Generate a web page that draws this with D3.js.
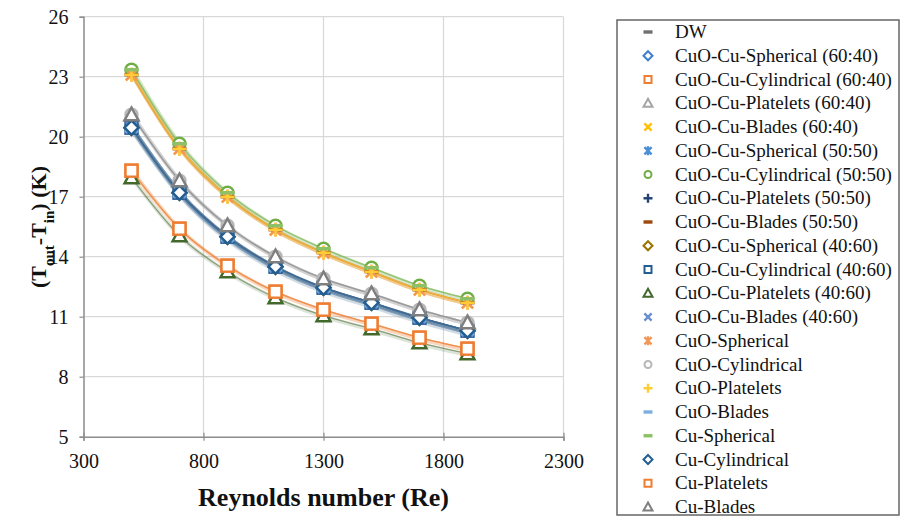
<!DOCTYPE html>
<html>
<head>
<meta charset="utf-8">
<script src="https://cdn.jsdelivr.net/npm/d3@7"></script>
<style>
  body { margin: 0; background: #fff; }
  svg text { font-family: "Liberation Serif", "Times New Roman", serif; }
</style>
</head>
<body>
<div id="chart"></div>
<script>
// Reynolds numbers on the x axis
const reynolds = [500, 700, 900, 1100, 1300, 1500, 1700, 1900];

// temperature rise (K), one array per visible band
const upperGreen  = [23.35, 19.65, 17.2, 15.55, 14.4, 13.45, 12.55, 11.9];
const upperOrange = [23.1, 19.4, 17.0, 15.35, 14.2, 13.25, 12.35, 11.7];
const plateletBand = [21.1, 17.8, 15.55, 14.0, 12.9, 12.15, 11.35, 10.7];
const diamondBand = [20.45, 17.2, 15.0, 13.5, 12.45, 11.7, 10.95, 10.3];
const diamondBandLow = [20.3, 17.05, 14.85, 13.35, 12.3, 11.55, 10.8, 10.15];
const lowerSquare = [18.3, 15.4, 13.55, 12.25, 11.35, 10.65, 9.95, 9.4];
const lowerTriangle = [17.95, 15.05, 13.25, 11.95, 11.05, 10.4, 9.7, 9.15];

const yTicks = [5, 8, 11, 14, 17, 20, 23, 26];
const xTicks = [300, 800, 1300, 1800, 2300];

const seriesNames = [
  "DW",
  "CuO-Cu-Spherical (60:40)", "CuO-Cu-Cylindrical (60:40)", "CuO-Cu-Platelets (60:40)", "CuO-Cu-Blades (60:40)",
  "CuO-Cu-Spherical (50:50)", "CuO-Cu-Cylindrical (50:50)", "CuO-Cu-Platelets (50:50)", "CuO-Cu-Blades (50:50)",
  "CuO-Cu-Spherical (40:60)", "CuO-Cu-Cylindrical (40:60)", "CuO-Cu-Platelets (40:60)", "CuO-Cu-Blades (40:60)",
  "CuO-Spherical", "CuO-Cylindrical", "CuO-Platelets", "CuO-Blades",
  "Cu-Spherical", "Cu-Cylindrical", "Cu-Platelets", "Cu-Blades"
];
const seriesValues = [
  diamondBandLow,
  diamondBand, lowerSquare, plateletBand, upperOrange,
  diamondBand, upperGreen, diamondBand, upperOrange,
  diamondBand, diamondBand, lowerTriangle, diamondBand,
  upperOrange, plateletBand, upperOrange, diamondBandLow,
  upperGreen, diamondBand, lowerSquare, plateletBand
];

// marker look per series (same order as names)
const styles = [
  { c: "#6f6f6f", s: "dash" },
  { c: "#3f7fcb", s: "diamond" }, { c: "#ed7d31", s: "square" }, { c: "#a5a5a5", s: "triangle" }, { c: "#ffc000", s: "x" },
  { c: "#4a8fd6", s: "star" }, { c: "#70ad47", s: "circle" }, { c: "#264478", s: "plus" }, { c: "#9e480e", s: "dash" },
  { c: "#997300", s: "diamond" }, { c: "#255e91", s: "square" }, { c: "#43682b", s: "triangle" }, { c: "#698ed0", s: "x" },
  { c: "#f1975a", s: "star" }, { c: "#b7b7b7", s: "circle" }, { c: "#ffcd33", s: "plus" }, { c: "#7cafdd", s: "dash" },
  { c: "#8cc168", s: "dash" }, { c: "#255e91", s: "diamond" }, { c: "#ed7d31", s: "square" }, { c: "#7f7f7f", s: "triangle" }
];

const series = seriesNames.map((name, i) => ({
  name: name,
  values: seriesValues[i].map((v, j) => ({ re: reynolds[j], t: v })),
  color: styles[i].c,
  shape: styles[i].s
}));

const W = 902, H = 519;
const margin = { top: 16.7, right: 338.5, bottom: 82.3, left: 83.5 };
const width = W - margin.left - margin.right;
const height = H - margin.top - margin.bottom;
const serif = "'Liberation Serif', 'Times New Roman', serif";

const svg = d3.select("#chart").append("svg")
  .attr("width", W).attr("height", H);

const g = svg.append("g")
  .attr("transform", `translate(${margin.left},${margin.top})`);

const x = d3.scaleLinear().domain([300, 2300]).range([0, width]);
const y = d3.scaleLinear().domain([5, 26]).range([height, 0]);

// grid
g.append("g").selectAll("line.hg")
  .data(yTicks.slice(1))
  .join("line")
  .attr("x1", 0).attr("x2", width)
  .attr("y1", d => y(d)).attr("y2", d => y(d))
  .attr("stroke", "#d9d9d9").attr("stroke-width", 1.2);
g.append("g").selectAll("line.vg")
  .data(xTicks.slice(1))
  .join("line")
  .attr("y1", 0).attr("y2", height)
  .attr("x1", d => x(d)).attr("x2", d => x(d))
  .attr("stroke", "#d9d9d9").attr("stroke-width", 1.2);

// axes
const xAxis = g.append("g")
  .attr("transform", `translate(0,${height})`)
  .call(d3.axisBottom(x).tickValues(xTicks).tickFormat(d3.format("d")).tickSize(4).tickPadding(13));
const yAxis = g.append("g")
  .call(d3.axisLeft(y).tickValues(yTicks).tickFormat(d3.format("d")).tickSize(4).tickPadding(11));

[xAxis, yAxis].forEach(ax => {
  ax.attr("font-family", serif).attr("font-size", 20);
  ax.select(".domain").attr("stroke", "#8c8c8c").attr("stroke-width", 1.5);
  ax.selectAll(".tick line").attr("stroke", "#8c8c8c").attr("stroke-width", 1.2);
  ax.selectAll(".tick text").attr("fill", "#111");
});
xAxis.selectAll(".tick line").attr("y1", -4);

// lines
const line = d3.line()
  .x(d => x(d.re))
  .y(d => y(d.t))
  .curve(d3.curveMonotoneX);

g.append("g").selectAll("path.shadow")
  .data(series)
  .join("path")
  .attr("fill", "none")
  .attr("stroke", d => d.color)
  .attr("stroke-opacity", 0.18)
  .attr("stroke-width", 4)
  .attr("transform", "translate(1.5,1.5)")
  .attr("d", d => line(d.values));

g.append("g").selectAll("path.line")
  .data(series)
  .join("path")
  .attr("fill", "none")
  .attr("stroke", d => d.color)
  .attr("stroke-opacity", 0.55)
  .attr("stroke-width", 1.3)
  .attr("d", d => line(d.values));

function drawMarker(sel, shape, color, r) {
  const sw = r > 5 ? 2.4 : 2;
  if (shape === "dash") {
    sel.append("rect").attr("x", -r).attr("y", -1.7).attr("width", 2 * r).attr("height", 3.4)
      .attr("fill", color);
  } else if (shape === "square") {
    sel.append("rect").attr("x", -r + 1).attr("y", -r + 1).attr("width", 2 * r - 2).attr("height", 2 * r - 2)
      .attr("fill", "#fff").attr("stroke", color).attr("stroke-width", sw);
  } else if (shape === "diamond") {
    sel.append("path").attr("d", `M0,${-r}L${r},0L0,${r}L${-r},0Z`)
      .attr("fill", "#fff").attr("stroke", color).attr("stroke-width", sw);
  } else if (shape === "triangle") {
    sel.append("path").attr("d", `M0,${-r}L${r},${r * 0.8}L${-r},${r * 0.8}Z`)
      .attr("fill", "#fff").attr("stroke", color).attr("stroke-width", sw);
  } else if (shape === "circle") {
    sel.append("circle").attr("r", r - 1)
      .attr("fill", "#fff").attr("stroke", color).attr("stroke-width", sw);
  } else if (shape === "x") {
    const k = r * 0.8;
    sel.append("path").attr("d", `M${-k},${-k}L${k},${k}M${k},${-k}L${-k},${k}`)
      .attr("stroke", color).attr("stroke-width", 2.4);
  } else if (shape === "star") {
    const k = r * 0.8;
    sel.append("path").attr("d", `M${-k},${-k}L${k},${k}M${k},${-k}L${-k},${k}M0,${-r}L0,${r}`)
      .attr("stroke", color).attr("stroke-width", 2.4);
  } else if (shape === "plus") {
    sel.append("path").attr("d", `M${-r},0L${r},0M0,${-r}L0,${r}`)
      .attr("stroke", color).attr("stroke-width", 2.4);
  }
}

// markers
const markerLayer = g.append("g");
series.forEach(s => {
  s.values.forEach(p => {
    const m = markerLayer.append("g")
      .attr("transform", `translate(${x(p.re)},${y(p.t)})`);
    drawMarker(m, s.shape, s.color, 7);
  });
});

// axis titles
const yTitle = svg.append("text")
  .attr("transform", "translate(46,227) rotate(-90)")
  .attr("text-anchor", "middle")
  .attr("font-family", serif)
  .attr("font-size", 22)
  .attr("font-weight", "bold")
  .attr("fill", "#111");
yTitle.append("tspan").text("(T");
yTitle.append("tspan").attr("baseline-shift", "sub").attr("font-size", 15).text("out");
yTitle.append("tspan").text("-T");
yTitle.append("tspan").attr("baseline-shift", "sub").attr("font-size", 15).text("in");
yTitle.append("tspan").text(") (K)");

svg.append("text")
  .attr("x", margin.left + x(1300)).attr("y", 506)
  .attr("text-anchor", "middle")
  .attr("font-family", serif)
  .attr("font-size", 26)
  .attr("font-weight", "bold")
  .attr("fill", "#111")
  .text("Reynolds number (Re)");

// legend
const legend = svg.append("g");
legend.append("rect")
  .attr("x", 617).attr("y", 20).attr("width", 282).attr("height", 495)
  .attr("fill", "#fff").attr("stroke", "#666").attr("stroke-width", 1.5);

const rows = legend.selectAll("g.row")
  .data(series)
  .join("g")
  .attr("transform", (d, i) => `translate(648,${32 + i * 23.75})`);
rows.each(function (d) { drawMarker(d3.select(this), d.shape, d.color, 4.5); });
rows.append("text")
  .attr("x", 27).attr("y", 6)
  .attr("font-family", serif)
  .attr("font-size", 19)
  .attr("fill", "#111")
  .text(d => d.name);
</script>
</body>
</html>
